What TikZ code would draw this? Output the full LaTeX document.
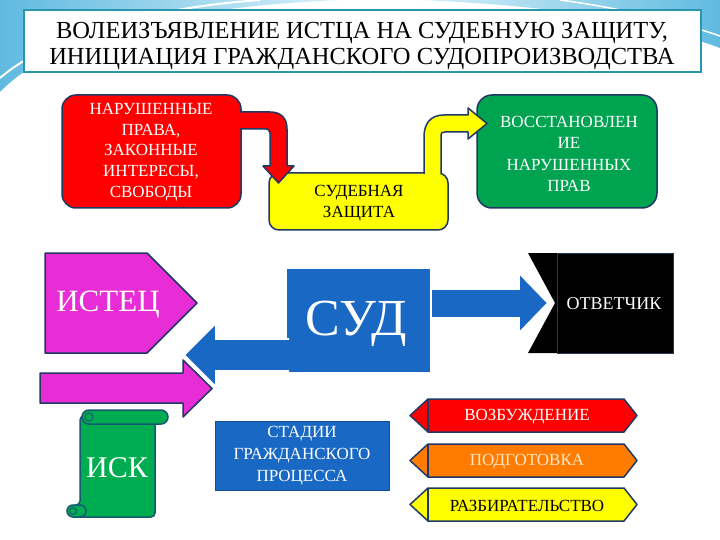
\documentclass[tikz,border=0pt]{standalone}
\usepackage{fontspec}
\setmainfont{Liberation Serif}
\usetikzlibrary{calc}
\definecolor{navy}{RGB}{31,56,100}
\definecolor{redc}{RGB}{255,0,0}
\definecolor{yellowc}{RGB}{255,255,0}
\definecolor{greenc}{RGB}{0,163,80}
\definecolor{scrollg}{RGB}{0,172,80}
\definecolor{scrollb}{RGB}{22,88,112}
\definecolor{magc}{RGB}{232,44,214}
\definecolor{bluec}{RGB}{24,104,196}
\definecolor{orangec}{RGB}{255,124,0}
\definecolor{podtxt}{RGB}{255,232,205}
\definecolor{teal2}{RGB}{40,150,175}
\definecolor{skyA}{RGB}{96,186,224}
\definecolor{skyB}{RGB}{214,240,250}
\begin{document}
\begin{tikzpicture}[x=1pt,y=-1pt,
  bord/.style={draw=navy,line width=1.5pt,line join=round},
  txt/.style={align=center,inner sep=0pt},
  body17/.style={align=center,inner sep=0pt,font=\fontsize{17}{21}\selectfont},
  wbord/.style={draw=white,line width=1.8pt,line join=miter,fill=bluec}]
\useasboundingbox (0,0) rectangle (720,540);
\fill[white] (0,0) rectangle (720,540);
% background swooshes
\shade[left color=skyA,right color=skyB] (0,0) -- (340,0) .. controls (200,6) and (60,30) .. (0,92) -- cycle;
\shade[left color=skyB,right color=skyA] (420,0) -- (720,0) -- (720,48) .. controls (650,22) and (560,6) .. (420,0) -- cycle;
\draw[white,line width=2pt] (260,0) .. controls (150,8) and (50,35) .. (0,78);
\draw[white,line width=1.5pt] (560,0) .. controls (620,8) and (680,22) .. (720,36);

% title
\node[draw=teal2,line width=2pt,fill=white,minimum width=677pt,minimum height=62pt,inner sep=0pt] (title) at (362.5,41.5) {};
\node[txt,font=\fontsize{24.5}{26}\selectfont] (titletext) at (362,46) {ВОЛЕИЗЪЯВЛЕНИЕ ИСТЦА НА СУДЕБНУЮ ЗАЩИТУ,\\ИНИЦИАЦИЯ ГРАЖДАНСКОГО СУДОПРОИЗВОДСТВА};

% top row boxes
\node[bord,fill=redc,rounded corners=14pt,minimum width=179pt,minimum height=113pt,inner sep=0pt] (red) at (151.5,151.5) {};
\node[body17,text=white,font=\fontsize{17}{20.8}\selectfont] (redtext) at (151,152) {НАРУШЕННЫЕ\\ПРАВА,\\ЗАКОННЫЕ\\ИНТЕРЕСЫ,\\СВОБОДЫ};

\node[bord,fill=yellowc,rounded corners=10pt,minimum width=179pt,minimum height=57pt,inner sep=0pt] (yel) at (358.5,201.5) {};
\node[body17] (yeltext) at (359,203) {СУДЕБНАЯ\\ЗАЩИТА};

\node[bord,fill=greenc,rounded corners=15pt,minimum width=180pt,minimum height=113pt,inner sep=0pt] (green) at (567,151.5) {};
\node[body17,text=white,font=\fontsize{17}{21.3}\selectfont] (greentext) at (569,154) {ВОССТАНОВЛЕН\\ИЕ\\НАРУШЕННЫХ\\ПРАВ};

% bent arrows
\draw[bord,fill=redc] (240,112) -- (270,112) .. controls (281,112) and (287,118) .. (287,129) -- (287,166) -- (294,166) -- (278.5,183) -- (263,166) -- (270,166) -- (270,133) .. controls (270,130) and (268,129) .. (266,129) -- (240,129);
\draw[bord,fill=yellowc] (424,174) -- (424,137) .. controls (424,124) and (430,115) .. (444,115) -- (468,115) -- (468,108) -- (487,123.5) -- (468,139) -- (468,132) -- (445,132) .. controls (442,132) and (441,133) .. (441,135) -- (441,174);

% middle row
\draw[bord,fill=magc] (45,253) -- (147,253) -- (197,303) -- (147,353) -- (45,353) -- cycle;
\node[txt,text=white,font=\fontsize{31}{31}\selectfont] (istec) at (108,305) {ИСТЕЦ};

\draw[bord,fill=magc] (40,373) -- (183,373) -- (183,360) -- (212,388.5) -- (183,417) -- (183,403) -- (40,403) -- cycle;

\node[fill=bluec,minimum width=143pt,minimum height=103pt,inner sep=0pt] (sud) at (358.5,320.5) {};
\node[txt,text=white,font=\fontsize{52}{52}\selectfont] (sudtext) at (356,324) {СУД};

\draw[wbord] (289,339) -- (216,339) -- (216,323) -- (184,355) -- (216,387) -- (216,371) -- (289,371);

\fill[black] (528,253) -- (673,253) -- (673,353) -- (528,353) -- (555,303) -- cycle;
\draw[navy,line width=1pt] (673,253) rectangle (557,353);
\draw[wbord] (432,289) -- (519,289) -- (519,273) -- (548,303) -- (519,333) -- (519,318) -- (432,318);
\node[txt,text=white,font=\fontsize{18}{18}\selectfont] (otv) at (614,304) {ОТВЕТЧИК};

% scroll
\draw[scrollb,line width=1.5pt,fill=scrollg,rounded corners=4pt] (80,416) -- (155,416) -- (155,517) -- (72,517) -- (72,505) -- (80,505) -- cycle;
\draw[scrollb,line width=1.5pt,fill=scrollg,rounded corners=6pt] (67,505) rectangle (86,517);
\draw[scrollb,line width=1pt,fill=scrollg] (73,511) circle (3.5);
\draw[scrollb,line width=1.5pt,fill=scrollg,rounded corners=7pt] (82,410) rectangle (168,424);
\draw[scrollb,line width=1pt,fill=scrollg] (89,417) circle (4);
\node[txt,text=white,font=\fontsize{30}{30}\selectfont] (isk) at (117,468) {ИСК};

% stages
\node[draw=bluec!75!black,line width=1pt,fill=bluec,minimum width=174pt,minimum height=69pt,inner sep=0pt] (stad) at (302,455.5) {};
\node[body17,text=white,font=\fontsize{17}{22}\selectfont] (stadtext) at (302,456) {СТАДИИ\\ГРАЖДАНСКОГО\\ПРОЦЕССА};

\foreach \t/\b/\c/\tc/\txt/\nm in {399/432/redc/white/ВОЗБУЖДЕНИЕ/st1,444/477/orangec/podtxt/ПОДГОТОВКА/st2,488/521/yellowc/black/РАЗБИРАТЕЛЬСТВО/st3}{
  \pgfmathsetmacro\m{(\t+\b)/2}
  \draw[bord,fill=\c] (410,\m) -- (428,\t) -- (624,\t) -- (637,\m) -- (624,\b) -- (428,\b) -- cycle;
  \draw[navy,line width=1.2pt] (428,\t) -- (428,\b);
  \node[txt,text=\tc,font=\fontsize{17}{17}\selectfont] (\nm) at (527,\m+1) {\txt};
}
\end{tikzpicture}
\end{document}
